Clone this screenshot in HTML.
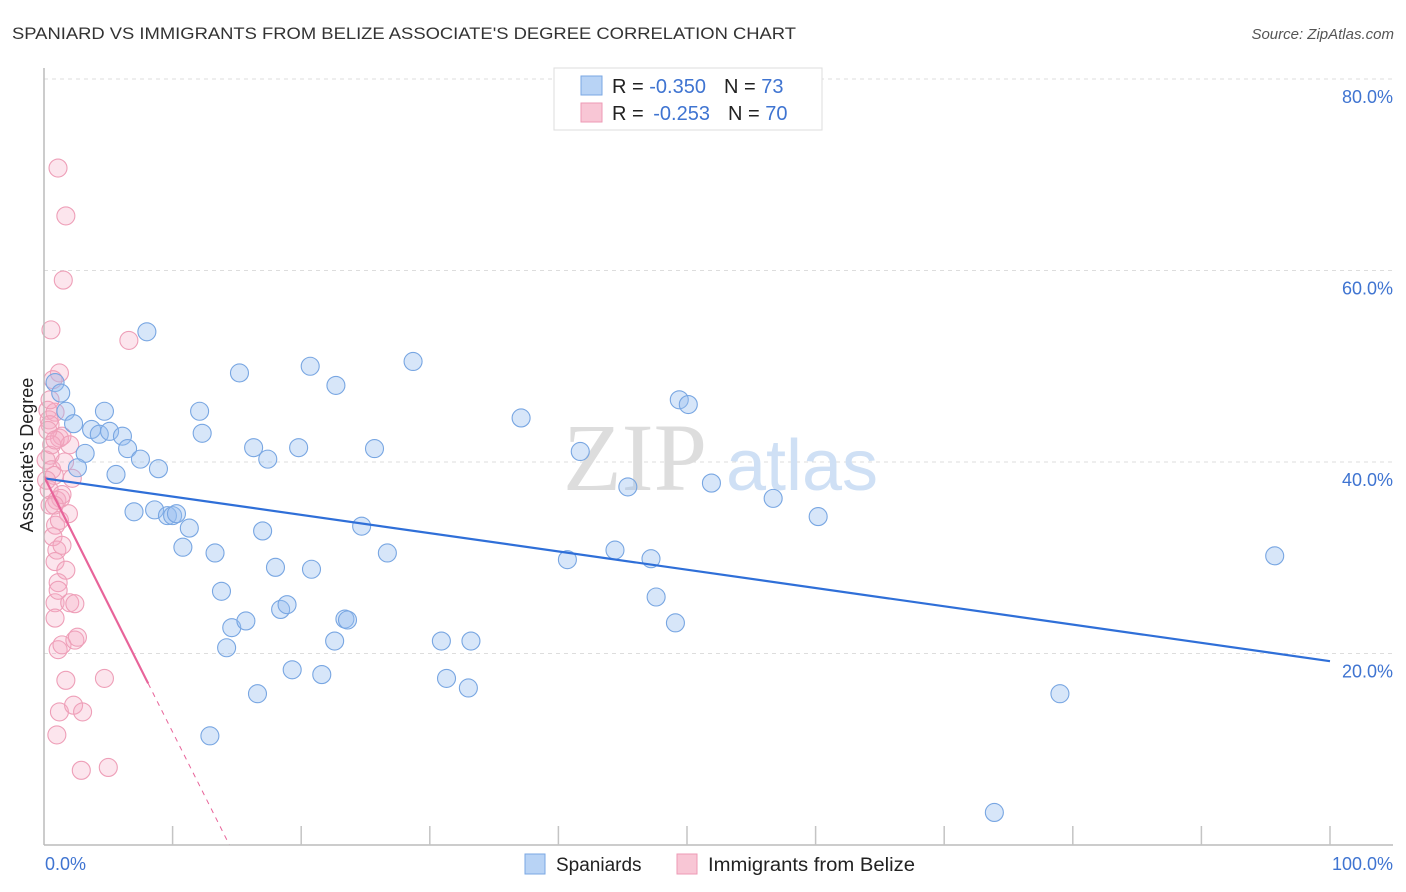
<!DOCTYPE html>
<html><head><meta charset="utf-8"><style>
body{margin:0;background:#fff;font-family:"Liberation Sans",sans-serif;}
svg{display:block}
</style></head><body>
<svg id="chart" width="1406" height="892">
<text x="12" y="39" font-size="17" fill="#333" textLength="784" lengthAdjust="spacingAndGlyphs">SPANIARD VS IMMIGRANTS FROM BELIZE ASSOCIATE'S DEGREE CORRELATION CHART</text>
<text x="1394" y="39" font-size="15" fill="#555" font-style="italic" text-anchor="end">Source: ZipAtlas.com</text>
<g id="grid"></g>
<g>
<text x="635" y="490" font-size="96" fill="#ddd" font-family="Liberation Serif,serif" text-anchor="middle">ZIP</text>
<text x="802" y="490" font-size="72" fill="#cfe0f5" text-anchor="middle">atlas</text>
</g>
<g id="points"></g>
<g id="trends"></g>
<line x1="44" y1="68" x2="44" y2="845" stroke="#bbb" stroke-width="1.5"/>
<line x1="44" y1="845" x2="1393" y2="845" stroke="#bbb" stroke-width="1.5"/>
<g id="xticks"></g>
<text x="33" y="455" font-size="18" fill="#222" text-anchor="middle" transform="rotate(-90 33 455)">Associate's Degree</text>
<text x="45" y="870" font-size="18" fill="#3f74d1">0.0%</text>
<text x="1393" y="870" font-size="18" fill="#3f74d1" text-anchor="end">100.0%</text>
<g>
<rect x="554" y="68" width="268" height="62" fill="#fff" stroke="#ddd"/>
<rect x="581" y="76" width="21" height="19" fill="#b8d3f5" stroke="#7aa7e3"/>
<text x="612" y="93" font-size="20" fill="#222">R = <tspan fill="#3f74d1">-0.350</tspan><tspan dx="18">N = </tspan><tspan fill="#3f74d1">73</tspan></text>
<rect x="581" y="103" width="21" height="19" fill="#f8c6d5" stroke="#ee9ab5"/>
<text x="612" y="120" font-size="20" fill="#222">R = <tspan fill="#3f74d1" dx="4">-0.253</tspan><tspan dx="18">N = </tspan><tspan fill="#3f74d1">70</tspan></text>
</g>
<g>
<rect x="525" y="854" width="20" height="20" fill="#b8d3f5" stroke="#7aa7e3"/>
<text x="556" y="871" font-size="19" fill="#222">Spaniards</text>
<rect x="677" y="854" width="20" height="20" fill="#f8c6d5" stroke="#ee9ab5"/>
<text x="708" y="871" font-size="19" fill="#222" textLength="207" lengthAdjust="spacingAndGlyphs">Immigrants from Belize</text>
</g>
</svg>
<script>
const yTicks=[20,40,60,80];
const yTickLabels=["20.0%","40.0%","60.0%","80.0%"];
const xTicks=[0,10,20,30,40,50,60,70,80,90,100];
const blueX=[8.0,0.86,1.3,1.7,2.3,4.7,3.7,4.3,5.1,6.1,6.5,3.2,2.6,5.6,7.5,8.9,7.0,8.6,9.6,10.0,10.3,11.3,10.8,13.3,13.8,14.6,14.2,15.7,12.1,12.3,15.2,16.3,17.4,17.0,18.0,16.6,12.9,18.4,18.9,19.3,19.8,20.7,20.8,21.6,22.6,22.7,23.4,23.6,24.7,25.7,26.7,28.7,30.9,31.3,33.0,33.2,37.1,41.7,40.7,44.4,45.4,47.2,47.6,49.1,49.4,50.1,51.9,56.7,60.2,79.0,73.9,95.7];
const blueY=[53.6,48.3,47.2,45.3,44.0,45.3,43.4,42.9,43.2,42.7,41.4,40.9,39.4,38.7,40.3,39.3,34.8,35.0,34.4,34.4,34.6,33.1,31.1,30.5,26.5,22.7,20.6,23.4,45.3,43.0,49.3,41.5,40.3,32.8,29.0,15.8,11.4,24.6,25.1,18.3,41.5,50.0,28.8,17.8,21.3,48.0,23.6,23.5,33.3,41.4,30.5,50.5,21.3,17.4,16.4,21.3,44.6,41.1,29.8,30.8,37.4,29.9,25.9,23.2,46.5,46.0,37.8,36.2,34.3,15.8,3.4,30.2];
const pinkX=[1.09,1.7,1.5,0.54,6.6,1.2,0.7,0.3,0.86,0.4,0.47,1.2,1.4,2.0,0.47,0.16,0.6,0.8,0.4,1.0,1.3,1.4,1.9,0.9,0.7,1.0,0.86,1.7,1.1,0.86,2.0,2.4,0.86,1.1,1.4,2.4,2.6,1.7,4.7,1.2,2.3,3.0,1.0,2.9,5.0,0.47,0.3,0.6,0.2,1.2,0.47,1.1,0.86,1.6,2.2,0.8,1.4];
const pinkY=[70.7,65.7,59.0,53.8,52.7,49.3,48.6,45.4,45.2,44.4,43.9,42.5,42.7,41.8,40.7,40.2,39.2,38.6,37.1,36.0,36.2,36.6,34.6,33.4,32.2,30.8,29.6,28.7,27.4,25.3,25.3,25.2,23.7,20.4,20.9,21.4,21.7,17.2,17.4,13.9,14.6,13.9,11.5,7.8,8.1,46.5,43.3,41.8,38.1,33.9,35.5,26.6,42.3,40.0,38.3,35.5,31.3];
const blueTrend=[38.3,19.2];
const pinkTrend=[38.5,-2.67];
const NS="http://www.w3.org/2000/svg";
const sx=v=>44+v*12.86, sy=v=>845-v*9.575;
function mk(t,a,p){const e=document.createElementNS(NS,t);for(const k in a)e.setAttribute(k,a[k]);p.appendChild(e);return e;}
const grid=document.getElementById('grid');
yTicks.forEach((t,i)=>{
 const l=mk('line',{x1:44,x2:1393,y1:sy(t),y2:sy(t),stroke:'#ddd','stroke-dasharray':'4,4'},grid);
 
 
 const tx=mk('text',{x:1393,y:sy(t)+24,'font-size':18,fill:'#3f74d1','text-anchor':'end'},grid);
 tx.textContent=yTickLabels[i];
 
 
});
const xt=document.getElementById('xticks');
xTicks.forEach(t=>{if(t===0)return;
 const l=mk('line',{x1:sx(t),x2:sx(t),y1:826,y2:845,stroke:'#c4c4c4','stroke-width':1.5},xt);
 
 
});
const pts=document.getElementById('points');
pinkX.forEach((x,i)=>{
 const c=mk('circle',{cx:sx(x),cy:sy(pinkY[i]),r:9,fill:'rgba(246,170,196,0.3)',stroke:'#ee9fb8','stroke-width':1.1},pts);
 
 
});
blueX.forEach((x,i)=>{
 const c=mk('circle',{cx:sx(x),cy:sy(blueY[i]),r:9,fill:'rgba(150,190,240,0.38)',stroke:'#78a6e2','stroke-width':1.1},pts);
 
 
});
const tr=document.getElementById('trends');
const b=mk('line',{x1:sx(0),y1:sy(blueTrend[0]),x2:sx(100),y2:sy(blueTrend[1]),stroke:'#2f6fd8','stroke-width':2.2},tr);


const pe=8.1, p0=-pinkTrend[0]/pinkTrend[1];
const p=mk('line',{x1:sx(0),y1:sy(pinkTrend[0]),x2:sx(pe),y2:sy(pinkTrend[0]+pinkTrend[1]*pe),stroke:'#e8649a','stroke-width':2.2},tr);


const pd=mk('line',{x1:sx(pe),y1:sy(pinkTrend[0]+pinkTrend[1]*pe),x2:sx(p0),y2:sy(0),stroke:'#e8649a','stroke-width':1,'stroke-dasharray':'5,5'},tr);


</script>
</body></html>
